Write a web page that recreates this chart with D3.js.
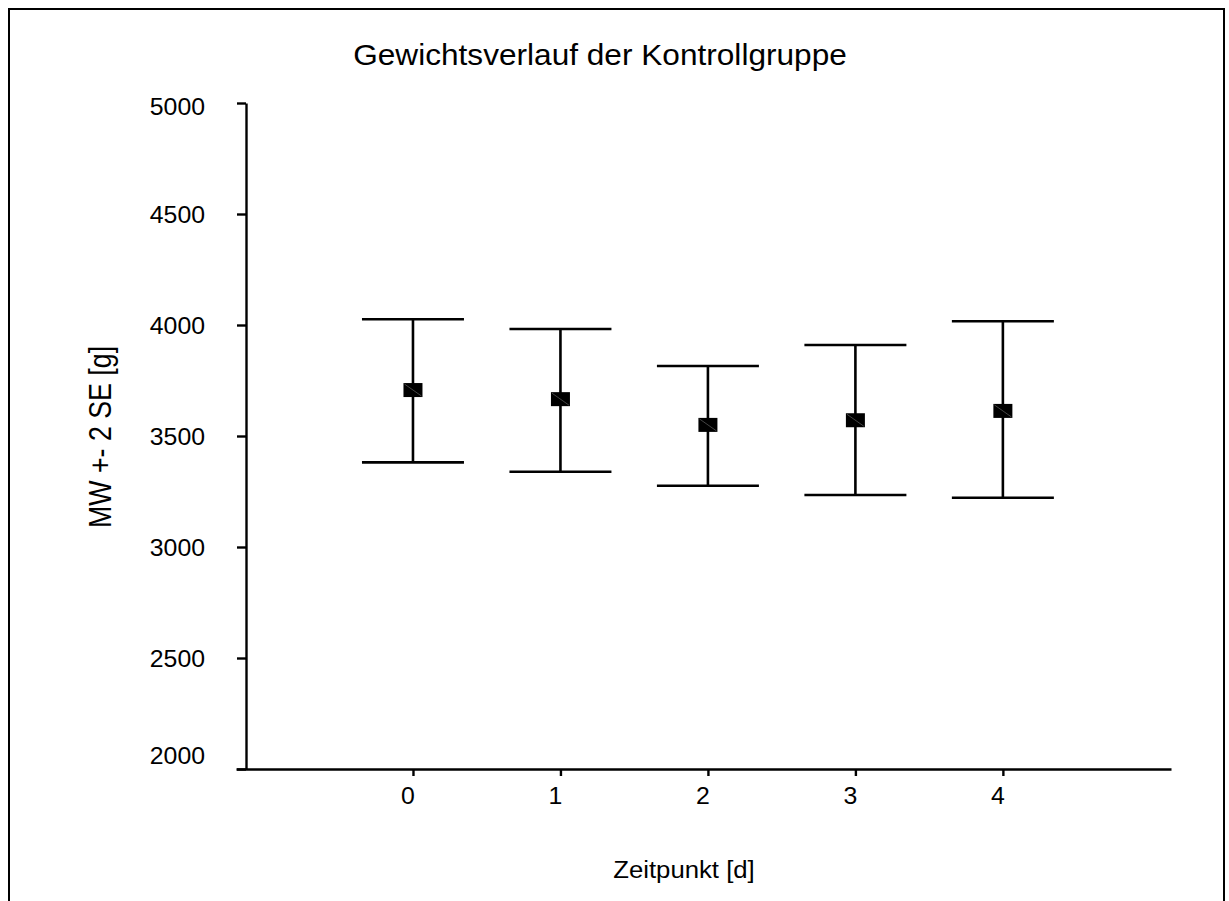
<!DOCTYPE html>
<html>
<head>
<meta charset="utf-8">
<script src="https://cdn.jsdelivr.net/npm/d3@7"></script>
<style>
  body { margin: 0; background: #fff; }
  svg text { font-family: "Liberation Sans", Arial, sans-serif; fill: #000; }
</style>
</head>
<body>
<svg id="chart"></svg>
<script>
// Gewichtsverlauf der Kontrollgruppe - MW +- 2 SE
const zeitpunkte = [0, 1, 2, 3, 4]
const mittelwerte = [3707, 3666, 3550, 3571, 3613]
const obereGrenze = [4026, 3982, 3815, 3910, 4017]
const untereGrenze = [3381, 3339, 3276, 3234, 3222]
const yTicks = [2000, 2500, 3000, 3500, 4000, 4500, 5000]

const width = 1229, height = 901

const svg = d3.select("#chart")
    .attr("width", width)
    .attr("height", height)

svg.append("rect")
    .attr("width", width).attr("height", height)
    .attr("fill", "#fff")

// frame (bottom edge runs off the picture)
svg.append("rect")
    .attr("x", 9).attr("y", 9)
    .attr("width", 1215).attr("height", 1000)
    .attr("fill", "none")
    .attr("stroke", "#000")
    .attr("stroke-width", 2)

const x = d3.scaleLinear().domain([-1.2, 5.14]).range([236, 1171])
const y = d3.scaleLinear().domain([2000, 5000]).range([769, 103])

const yAxisX = 246

// y axis
const yAxis = svg.append("g")
    .attr("transform", `translate(${yAxisX},0)`)
    .call(d3.axisLeft(y).tickValues(yTicks).tickSize(9).tickSizeOuter(0).tickFormat(""))
yAxis.selectAll("path, line").attr("stroke", "#000").attr("stroke-width", 2.4)

svg.append("g").selectAll("text")
    .data(yTicks)
    .join("text")
    .attr("text-anchor", "end")
    .attr("font-size", 23)
    .attr("transform", d => `translate(205,${Math.min(Math.max(y(d) + 9, 115), 764)}) scale(1.08,1)`)
    .text(d => d)

// x axis
const xAxis = svg.append("g")
    .attr("transform", `translate(0,${y(2000)})`)
    .call(d3.axisBottom(x).tickValues(zeitpunkte).tickSize(7).tickSizeOuter(0).tickFormat(""))
xAxis.selectAll("path, line").attr("stroke", "#000").attr("stroke-width", 2.4)

svg.append("g").selectAll("text")
    .data(zeitpunkte)
    .join("text")
    .attr("text-anchor", "middle")
    .attr("font-size", 23)
    .attr("transform", d => `translate(${x(d) - 5},804) scale(1.08,1)`)
    .text(d => d)

// error bars
const data = zeitpunkte.map((t, i) => ({
    t: t, mw: mittelwerte[i], lo: untereGrenze[i], hi: obereGrenze[i]
}))
const capHalf = 51

const bars = svg.append("g")
    .attr("stroke", "#000")
    .attr("stroke-width", 2.6)

bars.selectAll(".whisker")
    .data(data)
    .join("line")
    .attr("class", "whisker")
    .attr("x1", d => x(d.t)).attr("x2", d => x(d.t))
    .attr("y1", d => y(d.hi)).attr("y2", d => y(d.lo))

bars.selectAll(".cap-hi")
    .data(data)
    .join("line")
    .attr("class", "cap-hi")
    .attr("x1", d => x(d.t) - capHalf).attr("x2", d => x(d.t) + capHalf)
    .attr("y1", d => y(d.hi)).attr("y2", d => y(d.hi))

bars.selectAll(".cap-lo")
    .data(data)
    .join("line")
    .attr("class", "cap-lo")
    .attr("x1", d => x(d.t) - capHalf).attr("x2", d => x(d.t) + capHalf)
    .attr("y1", d => y(d.lo)).attr("y2", d => y(d.lo))

// mean markers
const mw = svg.append("g")
const mw_w = 19, mw_h = 14
mw.selectAll("rect")
    .data(data)
    .join("rect")
    .attr("x", d => x(d.t) - mw_w / 2)
    .attr("y", d => y(d.mw) - mw_h / 2)
    .attr("width", mw_w).attr("height", mw_h)
    .attr("fill", "#000")
mw.selectAll("line")
    .data(data)
    .join("line")
    .attr("x1", d => x(d.t) - mw_w / 2 + 1).attr("y1", d => y(d.mw) - mw_h / 2 + 1)
    .attr("x2", d => x(d.t) + mw_w / 2 - 1).attr("y2", d => y(d.mw) + mw_h / 2 - 1)
    .attr("stroke", "#555")
    .attr("stroke-width", 0.8)

// titles
svg.append("text")
    .attr("text-anchor", "middle")
    .attr("font-size", 29)
    .attr("transform", "translate(600,65) scale(1.09,1)")
    .text("Gewichtsverlauf der Kontrollgruppe")

svg.append("text")
    .attr("text-anchor", "middle")
    .attr("font-size", 24.5)
    .attr("transform", "translate(684,878) scale(1.05,1)")
    .text("Zeitpunkt [d]")

svg.append("text")
    .attr("text-anchor", "middle")
    .attr("font-size", 26)
    .attr("transform", "translate(111,437) rotate(-90) scale(1.03,1.18)")
    .text("MW +- 2 SE [g]")
</script>
</body>
</html>
